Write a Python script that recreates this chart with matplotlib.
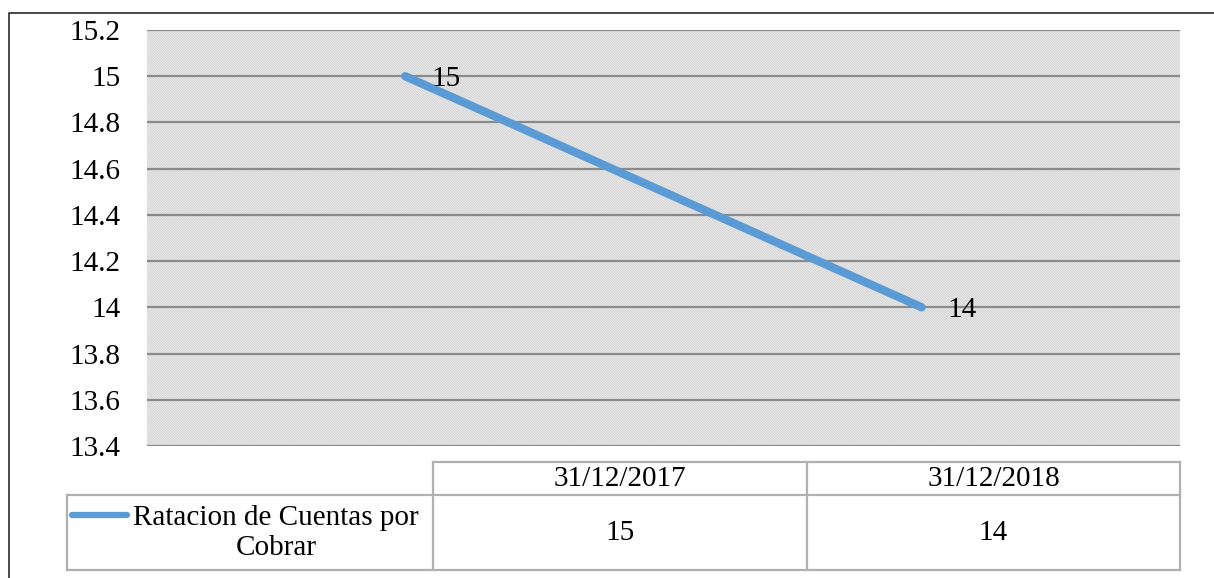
import numpy as np
import matplotlib.pyplot as plt

# data
fechas = ["31/12/2017", "31/12/2018"]
valores = [15, 14]
serie = "Ratacion de Cuentas por\nCobrar"
yticks = [13.4, 13.6, 13.8, 14.0, 14.2, 14.4, 14.6, 14.8, 15.0, 15.2]

plt.rcParams['font.family'] = ['Liberation Serif', 'DejaVu Serif']
plt.rcParams['hatch.linewidth'] = 0.5

W, H = 1214, 578
fig = plt.figure(figsize=(W / 100, H / 100), dpi=100)

# plot area in pixels: x 147..1180, y 30..446
ax = fig.add_axes([147 / W, 1 - 446 / H, (1180 - 147) / W, (446 - 30) / H])
ax.add_patch(plt.Rectangle((0, 0), 1, 1, transform=ax.transAxes, facecolor='white',
                           edgecolor='#c8c8c8', lw=0, hatch='\\' * 20, zorder=0.5))
x = np.arange(len(fechas))
ax.plot(x, valores, color='#5b9bd5', lw=6, solid_capstyle='round', zorder=3)
for xi, v in zip(x, valores):
    ax.annotate(f"{v:g}", (xi, v), xytext=(26, -3), textcoords='offset pixels',
                ha='left', va='center', fontsize=21, zorder=4)
ax.set_xlim(-0.5, len(fechas) - 0.5)
ax.set_ylim(13.4, 15.2)
ax.set_yticks(yticks)
ax.set_yticklabels([f"{t:g}" for t in yticks], fontsize=21)
ax.tick_params(axis='y', length=0, pad=19)
ax.set_xticks([])
ax.grid(axis='y', color='#8a8a8a', lw=1.6, zorder=1)
ax.set_axisbelow(False)
for s in ax.spines.values():
    s.set_visible(False)

# overlay in pixel coords for data table and chart border
ov = fig.add_axes([0, 0, 1, 1], facecolor='none')
ov.set_xlim(0, W)
ov.set_ylim(H, 0)
ov.axis('off')

ov.plot([9, 9, W + 5], [H + 5, 13, 13], color='#3a3a3a', lw=1.3)

tc = '#b0b0b0'
tw = 1.6
col_x = [433, 807, 1180]
# header row
ov.plot([433, 1180], [462, 462], color=tc, lw=tw)
for cx in col_x:
    ov.plot([cx, cx], [462, 570], color=tc, lw=tw)
ov.plot([67, 1180], [495, 495], color=tc, lw=tw)
ov.plot([67, 1180], [570, 570], color=tc, lw=tw)
ov.plot([67, 67], [495, 570], color=tc, lw=tw)

for i, (f, v) in enumerate(zip(fechas, valores)):
    cx = (col_x[i] + col_x[i + 1]) / 2
    ov.text(cx, 479, f, ha='center', va='center', fontsize=21)
    ov.text(cx, 533, f"{v:g}", ha='center', va='center', fontsize=21)

ov.plot([72, 127], [515, 515], color='#5b9bd5', lw=4.5, solid_capstyle='round')
ov.text(276, 533, serie, ha='center', va='center', fontsize=21, linespacing=1.22)

fig.savefig('out.png', dpi=100)
